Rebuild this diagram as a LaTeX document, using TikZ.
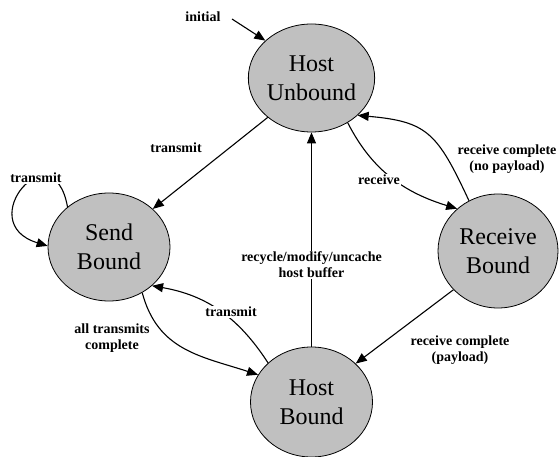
\documentclass[tikz,border=0pt]{standalone}
\usepackage{fontspec}
\setmainfont{Liberation Serif}
\usetikzlibrary{shapes.geometric,arrows.meta}
\definecolor{stategray}{HTML}{C0C0C0}
\tikzset{
  state/.style={ellipse, draw=black, line width=0.8pt, fill=stategray,
    font=\fontsize{24}{29}\selectfont, align=center, inner sep=0pt,
    minimum width=122pt, minimum height=108pt},
  lbl/.style={font=\bfseries\fontsize{14}{16}\selectfont, align=center, inner sep=1pt},
  gaplbl/.style={lbl, fill=white},
  arr/.style={line width=1.1pt, -{Triangle[length=11pt,width=9pt]}}
}
\begin{document}
\begin{tikzpicture}[x=1pt,y=1pt]
\useasboundingbox (0,0) rectangle (559,457);
% states
\node[state] (HU) at (311.5,379) {Host\\Unbound};
\node[state] (SB) at (109,210) {Send\\Bound};
\node[state, minimum width=120pt, minimum height=114pt] (RB) at (498,206) {Receive\\Bound};
\node[state, minimum height=110pt] (HB) at (311.5,55) {Host\\Bound};
% initial
\coordinate (init) at (232,438);
\node[lbl] (linit) at (203,440) {initial};
\draw[arr] (init) -- (HU.141);
% HU -> SB transmit
\draw[arr] (HU.222) -- (SB.41);
\node[lbl] (ltr1) at (176,309) {transmit};
% SB self loop
\draw[arr] (SB.136) .. controls +(100:80) and +(163:80) .. (SB.179);
\node[gaplbl] (ltr2) at (36,279) {transmit};
% HU -> RB receive
\draw[arr] (HU.309) to[out=297,in=163] (RB.134);
\node[gaplbl] (lrec) at (379,277) {receive};
% RB -> HU receive complete (no payload)
\draw[arr] (RB.120) .. controls +(115:75) and +(355:70) .. (HU.321);
\node[lbl] (lrcn) at (507,298) {receive complete\\(no payload)};
% SB -> HB all transmits complete
\draw[arr] (SB.306) .. controls +(285:60) and +(162:60) .. (HB.153);
\node[lbl] (latc) at (112,119) {all transmits\\complete};
% HB -> SB transmit
\draw[arr] (HB.138) .. controls +(123:55) and +(350:55) .. (SB.318);
\node[gaplbl] (ltr3) at (231,145) {transmit};
% HB -> HU recycle
\draw[arr] (HB) -- (HU);
\node[gaplbl] (lrcy) at (311.5,192) {recycle/modify/uncache\\host buffer};
% RB -> HB receive complete (payload)
\draw[arr] (RB.221) -- (HB.41);
\node[lbl] (lrcp) at (460,107) {receive complete\\(payload)};
\end{tikzpicture}
\end{document}
